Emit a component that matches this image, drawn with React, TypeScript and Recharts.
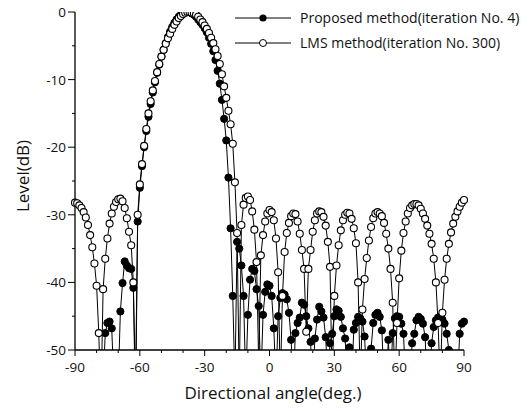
import { LineChart, Line, XAxis, YAxis } from "recharts";

// sampling grid of the beam pattern: one point per degree, -90..90
const angles: number[] = Array.from({ length: 181 }, (_, i) => i - 90);

const xTicks = [-90, -80, -70, -60, -50, -40, -30, -20, -10, 0, 10, 20, 30, 40, 50, 60, 70, 80, 90];
const yTicks = [0, -5, -10, -15, -20, -25, -30, -35, -40, -45, -50];

// LMS method (iteration No. 300), level in dB
const lmsLevel = [
  -28.2, -28.3, -28.6, -29.0, -29.6, -30.4, -31.5, -33.0, -34.8, -37.2, // -90..-81
  -40.5, -47.5, -58, -41, -36.5, -33.5, -31.3, -29.8, -28.8, -28.1, // -80..-71
  -27.7, -27.6, -28.0, -29.0, -30.5, -32.5, -34.5, -40, -60, -30, // -70..-61
  -25.5, -22.5, -19.8, -17.3, -15.0, -13.2, -11.6, -10.2, -8.9, -7.7, // -60..-51
  -6.6, -5.6, -4.7, -3.9, -3.2, -2.5, -1.9, -1.4, -0.9, -0.6, // -50..-41
  -0.3, -0.1, 0, 0, -0.1, -0.2, -0.4, -0.7, -1.1, -1.5, // -40..-31
  -2.0, -2.5, -3.1, -3.8, -4.6, -5.5, -6.5, -7.7, -9.2, -11.0, // -30..-21
  -12.7, -14.6, -16.6, -19.5, -25.2, -32.7, -55, -31.5, -28.5, -27.5, // -20..-11
  -27.3, -27.8, -29.5, -32.2, -37, -52, -36, -33, -31, -29.8, // -10..-1
  -29.3, -29.6, -30.8, -33.5, -38.5, -55, -42, -35.5, -32.7, -31.2, // 0..9
  -30.2, -29.8, -29.9, -31.0, -32.8, -35.2, -38.0, -47.3, -38.0, -35.2, // 10..19
  -32.5, -30.8, -29.8, -29.5, -29.6, -30.3, -31.6, -34.0, -37.7, -55, // 20..29
  -42, -37.5, -34.5, -32.3, -30.8, -30.0, -29.7, -29.8, -30.6, -32.0, // 30..39
  -34.2, -40, -55, -44, -39.5, -36.4, -33.8, -31.8, -30.5, -29.8, // 40..49
  -29.6, -29.8, -30.2, -31.2, -32.8, -35.0, -38, -43, -55, -46, // 50..59
  -39.4, -35.3, -32.7, -31.0, -29.8, -29.0, -28.6, -28.4, -28.4, -28.6, // 60..69
  -29.1, -29.8, -30.6, -31.6, -32.8, -34.3, -36.5, -40, -46, -55, // 70..79
  -44.5, -39.6, -36.5, -34.3, -32.6, -31.3, -30.3, -29.5, -28.8, -28.2, // 80..89
  -27.8, // 90
];

// Proposed method (iteration No. 4), level in dB
const proposedLevel = [
  -55, -55, -55, -55, -55, -55, -55, -55, -55, -55, // -90..-81
  -55, -55, -55, -55, -47.5, -46, -45.8, -46.8, -55, -55, // -80..-71
  -55, -44.3, -40.1, -36.9, -37.5, -37.9, -38, -40.8, -55, -31, // -70..-61
  -26, -22.8, -20, -17.6, -15.5, -13.6, -11.9, -10.4, -9.0, -7.8, // -60..-51
  -6.6, -5.6, -4.6, -3.7, -2.9, -2.2, -1.6, -1.1, -0.7, -0.4, // -50..-41
  -0.2, -0.05, 0, -0.05, -0.2, -0.4, -0.7, -1.1, -1.5, -1.9, // -40..-31
  -2.4, -3.0, -3.8, -4.7, -5.8, -7.1, -8.7, -10.6, -13.0, -15.8, // -30..-21
  -19.0, -24.5, -32, -42, -55, -34, -35, -37.5, -42, -55, // -20..-11
  -44.8, -39.6, -38, -38.3, -41, -43.5, -55, -44.8, -41.4, -40.3, // -10..-1
  -40.5, -42, -46.8, -55, -45, -42.3, -41.6, -41.8, -42.5, -44.5, // 0..9
  -48.5, -55, -47.5, -46, -45.2, -43, -43.3, -45, -46.8, -48.8, // 10..19
  -55, -48.3, -45.5, -43.6, -44.3, -45.2, -48.1, -55, -49, -47.6, // 20..29
  -45, -44, -44.2, -45.1, -46.8, -48.3, -55, -49.6, -55, -47, // 30..39
  -46, -45.1, -45.3, -45.8, -48, -55, -55, -49.8, -46, -44.8, // 40..49
  -44.5, -45.1, -47.1, -55, -55, -48.5, -55, -47.5, -45.3, -45, // 50..59
  -45.1, -46.1, -47.6, -55, -55, -55, -49, -47.6, -45.6, -45.1, // 60..69
  -45.4, -46.1, -48.1, -55, -55, -49, -46.6, -45.6, -45.2, -45.1, // 70..79
  -45.5, -46.1, -47.6, -50, -55, -55, -55, -55, -47.6, -46.1, // 80..89
  -45.8, // 90
];

const seriesNames = ["Proposed method(iteration No. 4)", "LMS method(iteration No. 300)"];

const chartData = angles.map((angle, i) => ({
  angle,
  proposed: proposedLevel[i],
  lms: lmsLevel[i],
}));

const FONT = "'Open Sans', 'DejaVu Sans', sans-serif";

const XTick = ({ x, y, payload }: any) => {
  const major = payload.value % 30 === 0;
  return (
    <g>
      <line x1={x} x2={x} y1={y} y2={y + (major ? 6 : 3)} stroke="#000" strokeWidth={1} />
      {major && (
        <text x={x} y={y + 22} textAnchor="middle" fontSize={13.5} fontFamily={FONT} fill="#111">
          {payload.value}
        </text>
      )}
    </g>
  );
};

const YTick = ({ x, y, payload }: any) => {
  const major = payload.value % 10 === 0;
  return (
    <g>
      <line x1={x - (major ? 7 : 3)} x2={x} y1={y} y2={y} stroke="#000" strokeWidth={1} />
      {major && (
        <text x={x - 9} y={y + 5} textAnchor="end" fontSize={13.5} fontFamily={FONT} fill="#111">
          {payload.value}
        </text>
      )}
    </g>
  );
};

const FilledDot = (props: any) => {
  const { cx, cy } = props;
  if (cx == null || cy == null) return <g />;
  return <circle cx={cx} cy={cy} r={3.6} fill="#000" stroke="#000" />;
};

const OpenDot = (props: any) => {
  const { cx, cy } = props;
  if (cx == null || cy == null) return <g />;
  return <circle cx={cx} cy={cy} r={3.5} fill="#fff" stroke="#000" strokeWidth={1.1} />;
};

function LegendBox() {
  return (
    <svg width={300} height={60} style={{ position: "absolute", left: 229, top: 0 }}>
      <line x1={6} x2={62} y1={18} y2={18} stroke="#000" strokeWidth={1.2} />
      <circle cx={34} cy={18} r={3.6} fill="#000" />
      <text x={71} y={23} fontSize={14} fontFamily={FONT} fill="#111">{seriesNames[0]}</text>
      <line x1={6} x2={62} y1={43} y2={43} stroke="#000" strokeWidth={1} />
      <circle cx={34} cy={43} r={3.5} fill="#fff" stroke="#000" />
      <text x={71} y={48} fontSize={14} fontFamily={FONT} fill="#111">{seriesNames[1]}</text>
    </svg>
  );
}

export default function App() {
  return (
    <div style={{ position: "absolute", left: 0, top: 0, width: 529, height: 411, background: "#fff" }}>
      <LineChart
        width={529}
        height={411}
        data={chartData}
        margin={{ top: 12, right: 65, left: 0, bottom: 0 }}
      >
        <XAxis
          dataKey="angle"
          type="number"
          domain={[-90, 90]}
          ticks={xTicks}
          interval={0}
          tick={<XTick />}
          tickLine={false}
          tickSize={0}
          tickMargin={0}
          height={61}
          axisLine={{ stroke: "#000", strokeWidth: 1.3 }}
          label={{
            content: () => (
              <text x={273} y={399} textAnchor="middle" fontSize={17} fontFamily={FONT} fill="#111">
                Directional angle(deg.)
              </text>
            ),
          }}
        />
        <YAxis
          type="number"
          domain={[-50, 0]}
          allowDataOverflow
          ticks={yTicks}
          interval={0}
          tick={<YTick />}
          tickLine={false}
          tickSize={0}
          tickMargin={0}
          width={75}
          axisLine={{ stroke: "#000", strokeWidth: 1.3 }}
          label={{
            content: () => (
              <text
                x={29}
                y={176}
                textAnchor="middle"
                fontSize={17}
                fontFamily={FONT}
                fill="#111"
                transform="rotate(-90 29 176)"
              >
                Level(dB)
              </text>
            ),
          }}
        />
        <Line
          type="linear"
          dataKey="proposed"
          name={seriesNames[0]}
          stroke="#000"
          strokeWidth={1}
          dot={<FilledDot />}
          activeDot={false}
          isAnimationActive={false}
        />
        <Line
          type="linear"
          dataKey="lms"
          name={seriesNames[1]}
          stroke="#000"
          strokeWidth={1}
          dot={<OpenDot />}
          activeDot={false}
          isAnimationActive={false}
        />
      </LineChart>
      <LegendBox />
    </div>
  );
}
